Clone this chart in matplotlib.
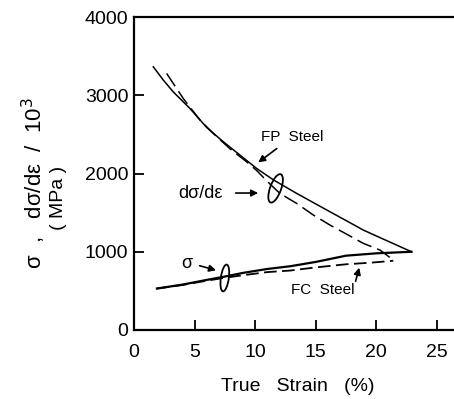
import numpy as np
import matplotlib
matplotlib.use('Agg')
import matplotlib.pyplot as plt
from matplotlib.patches import Ellipse
from matplotlib.transforms import ScaledTranslation

# d(sigma)/d(eps), FP steel (solid)
fp_rate_x = [1.6, 2.4, 3.24, 4.62, 6.0, 7.37, 8.75, 10.12, 11.5, 13.42, 14.8, 16.17, 17.55, 18.92, 20.3, 21.67, 22.9]
fp_rate_y = [3365, 3200, 3045, 2833, 2590, 2407, 2236, 2066, 1920, 1747, 1629, 1512, 1395, 1278, 1181, 1086, 1000]

# d(sigma)/d(eps), FC steel (dashed)
fc_rate_x = [2.7, 4.07, 5.45, 6.5, 7.9, 9.3, 10.12, 11.0, 12.05, 13.42, 14.8, 16.17, 17.55, 18.92, 20.3, 21.4]
fc_rate_y = [3280, 2960, 2684, 2520, 2320, 2150, 2040, 1900, 1745, 1619, 1470, 1342, 1225, 1108, 1022, 895]

# sigma, FP steel (solid)
fp_sig_x = [1.9, 4.0, 6.0, 7.4, 9.0, 11.0, 12.9, 15.0, 17.5, 20.0, 22.9]
fp_sig_y = [530, 580, 640, 680, 730, 780, 815, 870, 950, 980, 1000]

# sigma, FC steel (dashed)
fc_sig_x = [1.9, 4.0, 6.0, 7.4, 9.0, 11.0, 12.9, 15.0, 17.5, 19.5, 21.4]
fc_sig_y = [530, 575, 630, 665, 700, 740, 760, 800, 840, 860, 885]

x_ticks = [0, 5, 10, 15, 20, 25]
y_ticks = [0, 1000, 2000, 3000, 4000]

FONT = 'Liberation Sans'

fig = plt.figure(figsize=(4.54, 3.99), dpi=100)
ax = fig.add_axes([0.295, 0.173, 0.72, 0.784])

ax.plot(fp_rate_x, fp_rate_y, color='black', lw=1.1)
ax.plot(fc_rate_x, fc_rate_y, color='black', lw=1.1, dashes=(10, 4))
ax.plot(fp_sig_x, fp_sig_y, color='black', lw=1.6)
ax.plot(fc_sig_x, fc_sig_y, color='black', lw=1.3, dashes=(7, 3))

ax.set_xlim(0, 0.72 * 454 / 12.12)
ax.set_ylim(0, 4000)
ax.set_xticks(x_ticks)
ax.set_yticks(y_ticks)
ax.tick_params(direction='in', length=7, width=1.3, labelsize=14, pad=10)
ax.tick_params(axis='y', pad=4)
for lab in ax.get_xticklabels() + ax.get_yticklabels():
    lab.set_fontfamily(FONT)
for s in ax.spines.values():
    s.set_linewidth(1.6)
ax.spines['right'].set_visible(False)

ax.set_xlabel('True   Strain   (%)', fontsize=14, family=FONT, labelpad=12)

fig.text(0.075, 0.54, 'σ  ,   dσ/dε  /  10$^3$', rotation=90,
         ha='center', va='center', fontsize=16, family=FONT)
fig.text(0.128, 0.505, '( MPa )', rotation=90, ha='center', va='center',
         fontsize=14, family=FONT)

arrow = dict(arrowstyle='-|>', color='black', lw=1.2, mutation_scale=10)
ax.annotate('FP  Steel', xy=(10.07, 2121), xytext=(10.48, 2377), arrowprops=arrow,
            fontsize=11, family=FONT, ha='left', va='bottom')
ax.annotate('', xy=(10.48, 1751), xytext=(8.17, 1751), arrowprops=arrow)
ax.text(5.45, 1751, 'dσ/dε', fontsize=13, family=FONT, ha='center', va='center')
ax.annotate('', xy=(7.0, 754), xytext=(5.2, 831), arrowprops=arrow)
ax.text(4.37, 850, 'σ', fontsize=13, family=FONT, ha='center', va='center')
ax.annotate('', xy=(18.65, 831), xytext=(18.23, 588), arrowprops=arrow)
ax.text(15.6, 511, 'FC  Steel', fontsize=11, family=FONT, ha='center', va='center')

# loops marking the curve pairs
for (cx, cy), w, h, ang in [((11.69, 1811), 0.11, 0.30, -20), ((7.5, 665), 0.08, 0.27, -8)]:
    e = Ellipse((0, 0), w, h, angle=ang, fill=False, color='black', lw=1.3,
                transform=fig.dpi_scale_trans + ScaledTranslation(cx, cy, ax.transData))
    ax.add_patch(e)

plt.savefig('out.png', dpi=100)
